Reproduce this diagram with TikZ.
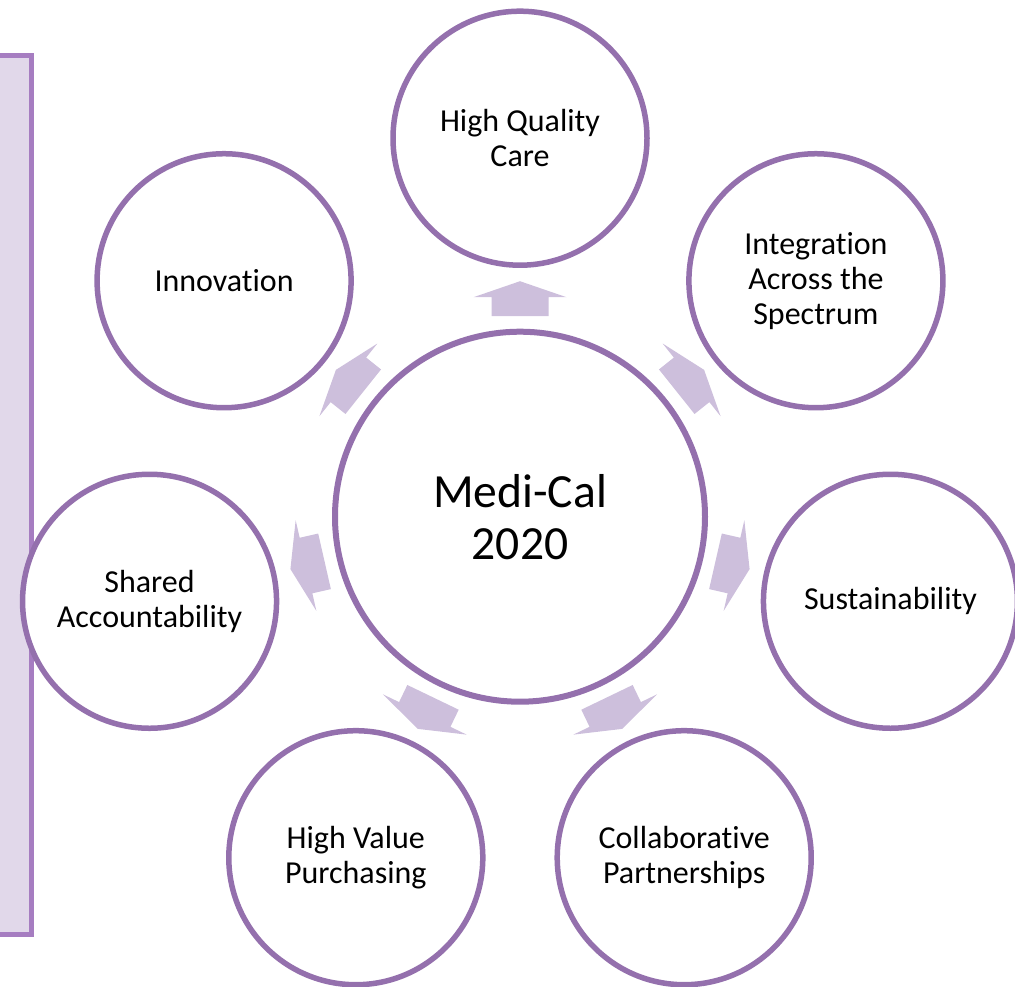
\documentclass[tikz,border=0pt]{standalone}
\usepackage{fontspec}
\setmainfont[Ligatures=NoCommon]{Carlito}
\usetikzlibrary{calc}
\definecolor{circ}{HTML}{9470AD}
\definecolor{arr}{HTML}{CDBFDC}
\definecolor{rectfill}{HTML}{E1D8EA}
\definecolor{rectline}{HTML}{A67DC1}
\begin{document}
\begin{tikzpicture}[x=1pt,y=1pt,
  outer/.style={circle, draw=circ, line width=5.5pt, fill=white, minimum size=254pt,
    inner sep=0pt, align=center, font=\fontsize{32}{35}\selectfont},
  hub/.style={circle, draw=circ, line width=6pt, fill=white, minimum size=370pt,
    inner sep=0pt, align=center, font=\fontsize{47.6}{52}\selectfont},
  blockarrow/.style={fill=arr, draw=none}]
\useasboundingbox (0,0) rectangle (1015,-986);
% side panel
\draw[draw=rectline, fill=rectfill, line width=5pt] (-20,-55.5) rectangle (31.5,-934.5);
\coordinate (o) at (520,-516.7);
% centre
\node[hub] (c) at (o) {Medi-Cal\\2020};
% outer circles
\node[outer] (n0) at ($(o)+(90:378.5)$) {High Quality\\Care};
\node[outer] (n1) at ($(o)+({90-360/7}:378.5)$) {Integration\\Across the\\Spectrum};
\node[outer] (n2) at ($(o)+({90-2*360/7}:380)$) {Sustainability};
\node[outer] (n3) at ($(o)+({90-3*360/7}:378.5)$) {Collaborative\\Partnerships};
\node[outer] (n4) at ($(o)+({90-4*360/7}:378.5)$) {High Value\\Purchasing};
\node[outer] (n5) at ($(o)+({90-5*360/7}:380)$) {Shared\\Accountability};
\node[outer] (n6) at ($(o)+({90-6*360/7}:378.5)$) {Innovation};
% block arrows
\foreach \k in {0,...,6}{
  \pgfmathsetmacro\rot{-\k*360/7}
  \begin{scope}[shift={(o)}, rotate=\rot]
    \fill[blockarrow] (-28.5,200.5) -- (-28.5,219.5) -- (-46.5,219.5) -- (0,235.5)
      -- (46.5,219.5) -- (28.5,219.5) -- (28.5,200.5) -- cycle;
  \end{scope}
}
\end{tikzpicture}
\end{document}
